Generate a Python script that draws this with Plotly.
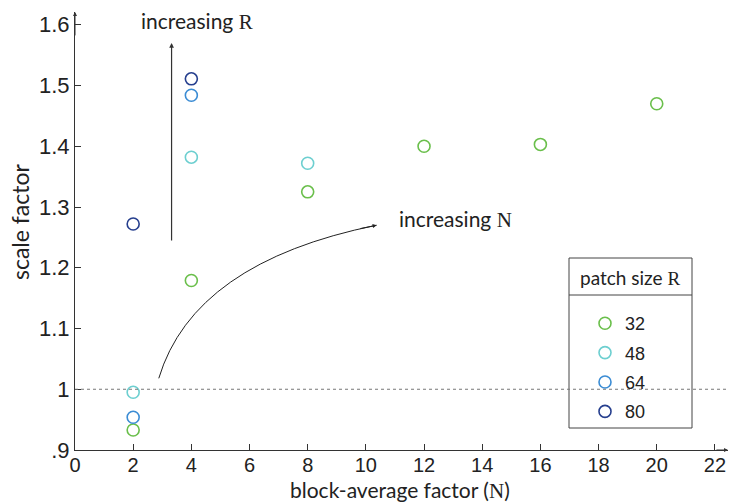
import plotly.graph_objects as go

# ---- data ----
patch_sizes = ["32", "48", "64", "80"]
colors = ["#6abf4b", "#6dcfd0", "#3b8cd4", "#263f8e"]
n_32 = [2, 4, 8, 12, 16, 20]
s_32 = [0.933, 1.179, 1.325, 1.400, 1.403, 1.470]
n_48 = [2, 4, 8]
s_48 = [0.995, 1.382, 1.372]
n_64 = [2, 4]
s_64 = [0.954, 1.484]
n_80 = [2, 4]
s_80 = [1.272, 1.511]
x_ticks = list(range(0, 23, 2))
y_tickvals = [0.9, 1.0, 1.1, 1.2, 1.3, 1.4, 1.5, 1.6]
y_ticktext = [".9", "1", "1.1", "1.2", "1.3", "1.4", "1.5", "1.6"]

series_x = [n_32, n_48, n_64, n_80]
series_y = [s_32, s_48, s_64, s_80]

SANS = "Lato"
SERIF = "Liberation Serif"
TICK = "Liberation Sans"
AX = "#333333"

fig = go.Figure()
for i, (name, col, xs, ys) in enumerate(zip(patch_sizes, colors, series_x, series_y)):
    fig.add_trace(go.Scatter(
        x=xs, y=ys, mode="markers", name=name, legendgroup=f"g{i}",
        marker=dict(symbol="circle-open", size=12, color=col, line=dict(width=1.6, color=col)),
    ))

XR = [0, 22.45]
YR = [0.9, 1.621]

fig.update_layout(
    width=730, height=504,
    margin=dict(l=75, r=2, t=12, b=54),
    paper_bgcolor="white", plot_bgcolor="white",
    showlegend=True,
    legend=dict(x=(585 - 75) / 653, y=(450 - 305) / 438, xanchor="left", yanchor="top",
                bgcolor="rgba(0,0,0,0)", borderwidth=0, tracegroupgap=3,
                font=dict(family=TICK, size=18, color="#222")),
    xaxis=dict(range=XR, tickvals=x_ticks, ticks="inside", ticklen=6, tickcolor=AX,
               showline=True, linecolor=AX, linewidth=1, showgrid=False, zeroline=False,
               ticklabelstandoff=-3,
               tickfont=dict(family=TICK, size=20, color="#222")),
    yaxis=dict(range=YR, tickvals=y_tickvals, ticktext=y_ticktext, ticks="inside", ticklen=6,
               tickcolor=AX, showline=True, linecolor=AX, linewidth=1, showgrid=False,
               zeroline=False, tickfont=dict(family=TICK, size=22, color="#222")),
)

shapes = []
# reference line at 1
shapes.append(dict(type="line", xref="paper", x0=0, x1=1, yref="y", y0=1, y1=1,
                   line=dict(color="#777", width=1, dash="3px,3px")))
# curved arrow "increasing N"
shapes.append(dict(type="path", xref="x", yref="y",
                   path="M 2.88,1.018 Q 4.08,1.209 10.37,1.270",
                   line=dict(color="#222", width=1)))
# legend box
lx0, lx1, ly0, ly1, lsep = 569, 692, 258, 428, 295
def px_x(p):
    return (p - 75) / 653
def px_y(p):
    return (450 - p) / 438
shapes.append(dict(type="rect", xref="paper", yref="paper", x0=px_x(lx0), x1=px_x(lx1),
                   y0=px_y(ly1), y1=px_y(ly0), line=dict(color="#444", width=1),
                   fillcolor="rgba(255,255,255,1)", layer="below"))
shapes.append(dict(type="line", xref="paper", yref="paper", x0=px_x(lx0), x1=px_x(lx1),
                   y0=px_y(lsep), y1=px_y(lsep), line=dict(color="#444", width=1)))
fig.update_layout(shapes=shapes)

ann = []
# axis arrows
ann.append(dict(x=22.45, y=0.9, ax=22.0, ay=0.9, xref="x", yref="y", axref="x", ayref="y",
                showarrow=True, arrowhead=2, arrowsize=0.8, arrowwidth=1, arrowcolor=AX, text=""))
ann.append(dict(x=0, y=1.621, ax=0, ay=1.58, xref="x", yref="y", axref="x", ayref="y",
                showarrow=True, arrowhead=2, arrowsize=0.8, arrowwidth=1, arrowcolor=AX, text=""))
# increasing R arrow
ann.append(dict(x=3.32, y=1.570, ax=3.32, ay=1.2425, xref="x", yref="y", axref="x", ayref="y",
                showarrow=True, arrowhead=2, arrowsize=0.8, arrowwidth=1.2, arrowcolor="#333", text=""))
# increasing N arrowhead
ann.append(dict(x=10.37, y=1.270, ax=9.76, ay=1.264, xref="x", yref="y", axref="x", ayref="y",
                showarrow=True, arrowhead=2, arrowsize=0.8, arrowwidth=1, arrowcolor="#222", text=""))

def label(xp, yp, text, size, angle=0, yanchor="middle", pad=1):
    return dict(x=px_x(xp), y=px_y(yp), xref="paper", yref="paper", showarrow=False,
                xanchor="center", yanchor=yanchor, text=text, textangle=angle, borderpad=pad,
                font=dict(family=SANS, size=size, color="#222"))

ann.append(label(197, 21, f"increasing <span style='font-family:{SERIF}'>R</span>", 21))
ann.append(label(455, 219, f"increasing <span style='font-family:{SERIF}'>N</span>", 21))
ann.append(label(630, 277, f"patch size <span style='font-family:{SERIF}'>R</span>", 19))
ann.append(label(400, 504, f"block-average factor (<span style='font-family:{SERIF}'>N</span>)", 21,
                 yanchor="bottom", pad=0))
ann.append(label(20, 222, "scale factor", 23, -90))
fig.update_layout(annotations=ann)

fig.write_html("out.html")
